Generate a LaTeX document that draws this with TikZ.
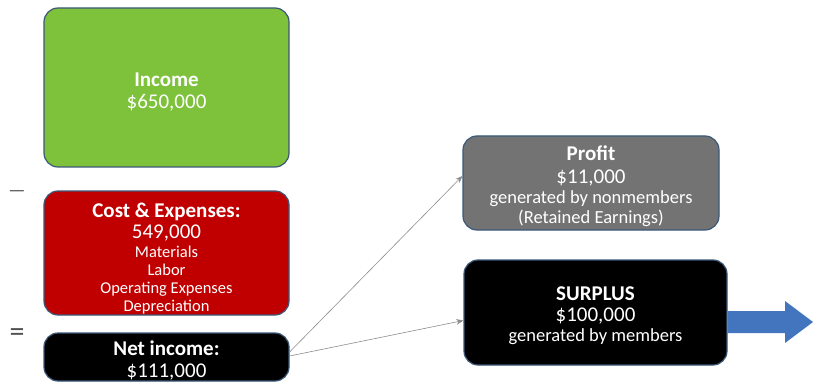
\documentclass[tikz,border=0pt]{standalone}
\usepackage{fontspec}
\setmainfont{Carlito}
\usetikzlibrary{arrows.meta,positioning}
\definecolor{fiedge}{HTML}{3C5878}
\definecolor{figreen}{HTML}{7DC23A}
\definecolor{fired}{HTML}{C00000}
\definecolor{figrey}{HTML}{737373}
\definecolor{fiblue}{HTML}{4275BE}
\definecolor{filine}{HTML}{8C8C8C}
\definecolor{fisign}{HTML}{505050}
\newcommand{\bigtxt}{\fontsize{21}{21}\selectfont}
\newcommand{\midtxt}{\fontsize{18.5}{20}\selectfont}
\newcommand{\smalltxt}{\fontsize{16.5}{18}\selectfont}
\newcommand{\topstrut}[1]{\rule{0pt}{#1}}

\begin{document}
\begin{tikzpicture}[x=1pt,y=-1pt,
  box/.style={rounded corners=14pt,draw=fiedge,line width=1.2pt,text=white,
              align=center,inner sep=0pt},
  sign/.style={text=fisign,inner sep=0pt},
  arr/.style={-{Stealth[length=2.5mm,width=2mm]},line width=0.6pt,color=filine}
]
\useasboundingbox (0,0) rectangle (813,382);
\node[box,fill=figreen,minimum width=245pt,minimum height=159pt,font=\bigtxt] (inc) at (166.5,87.5)
  {\topstrut{22pt}\bfseries Income\\[1pt]\$650,000};
\node[box,fill=fired,minimum width=245pt,minimum height=124pt,font=\smalltxt] (cost) at (166.5,253)
  {\topstrut{26pt}\bigtxt\bfseries Cost \& Expenses:\\[3pt]\bigtxt 549,000\\[1pt]Materials\\Labor\\
   Operating Expenses\\Depreciation};
\node[box,fill=black,minimum width=245pt,minimum height=48pt,font=\bigtxt] (net) at (166.5,357)
  {\topstrut{22pt}\bfseries Net income:\\[1pt]\$111,000};
\node[sign,font=\fontsize{19}{19}\selectfont] (minus) at (17,194) {---};
\node[sign,font=\fontsize{30}{30}\selectfont] (equals) at (17,335) {=};
\node[box,fill=figrey,minimum width=256pt,minimum height=94pt,font=\midtxt] (pro) at (591,183)
  {\topstrut{21pt}\bigtxt\bfseries Profit\\[3pt]\bigtxt \$11,000\\generated by nonmembers\\(Retained Earnings)};
\node[box,fill=black,minimum width=263pt,minimum height=105pt,font=\midtxt] (sur) at (595.5,312.5)
  {\topstrut{21pt}\bigtxt\bfseries SURPLUS\\[1pt]\bigtxt \$100,000\\generated by members};
\draw[arr] ([yshift=5pt]net.east) -- ([yshift=7pt]pro.west);
\draw[arr] ([yshift=1pt]net.east) -- ([yshift=-8pt]sur.west);
% blue arrow out of the surplus
\fill[fiblue] ([yshift=1.5pt]sur.east) -- (785,311) -- (785,301) -- (813,322)
  -- (785,343) -- (785,333) -- ([yshift=-20.5pt]sur.east) -- cycle;
\end{tikzpicture}
\end{document}
